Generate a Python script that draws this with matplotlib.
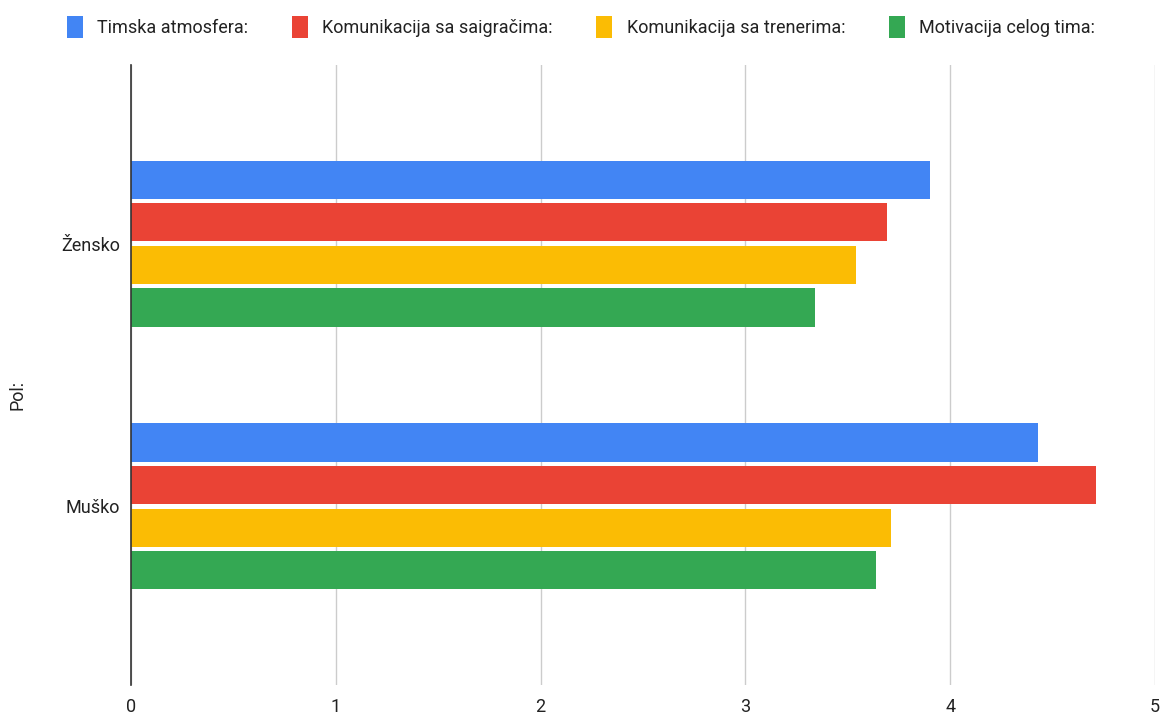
import numpy as np
import matplotlib.pyplot as plt

plt.rcParams['font.family'] = ['Roboto', 'DejaVu Sans']

categories = ['Žensko', 'Muško']
series = ['Timska atmosfera:', 'Komunikacija sa saigračima:',
          'Komunikacija sa trenerima:', 'Motivacija celog tima:']
values = [
    [3.90, 4.43],   # Timska atmosfera
    [3.69, 4.71],   # Komunikacija sa saigračima
    [3.54, 3.71],   # Komunikacija sa trenerima
    [3.34, 3.64],   # Motivacija celog tima
]
colors = ['#4285f4', '#ea4335', '#fbbc04', '#34a853']
xticks = [0, 1, 2, 3, 4, 5]

fig = plt.figure(figsize=(11.62, 7.17), dpi=100)
ax = fig.add_axes([131 / 1162, 1 - 685 / 717, 1024 / 1162, 620 / 717])

y = np.arange(len(categories))
step = 0.162
height = 0.1456
for i, (name, vals) in enumerate(zip(series, values)):
    ax.barh(y + (i - 1.5) * step, vals, height=height, color=colors[i],
            label=name, zorder=3)

ax.set_xlim(0, 5)
ax.set_ylim(1.68, -0.68)
ax.set_xticks(xticks)
ax.set_yticks(y)
ax.set_yticklabels(categories)
ax.tick_params(axis='both', length=0, labelsize=13, colors='#222222')
ax.tick_params(axis='x', pad=9)
ax.tick_params(axis='y', pad=8)
ax.grid(axis='x', color='#cccccc', linewidth=1, zorder=0)
for s in ['top', 'right', 'bottom']:
    ax.spines[s].set_visible(False)
ax.spines['left'].set_color('#333333')
ax.spines['left'].set_linewidth(1.2)
ax.spines['left'].set_zorder(4)

fig.text(18 / 1162, 1 - 395 / 717, 'Pol:', rotation=90, fontsize=13,
         va='center', ha='center', color='#222222')

fig.legend(loc='upper center', bbox_to_anchor=(0.5, 1.0), ncol=4,
           frameon=False, fontsize=13, handlelength=0.9, handleheight=1.5,
           handletextpad=0.8, columnspacing=2.4, labelcolor='#222222')

fig.savefig('out.png', dpi=100)
